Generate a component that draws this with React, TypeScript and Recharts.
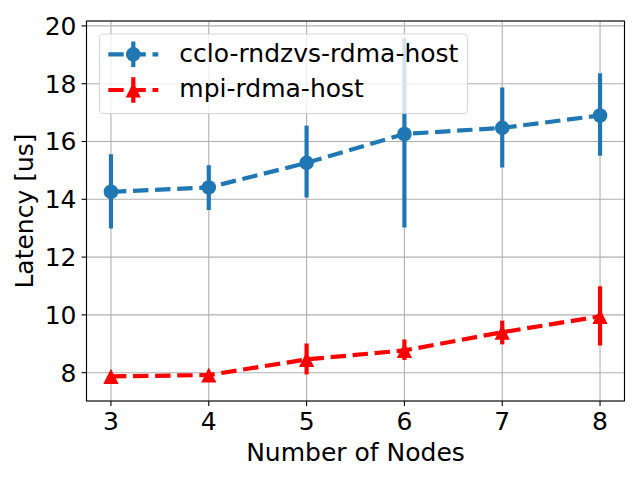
import React from 'react';
import { LineChart, Line, XAxis, YAxis, CartesianGrid, ErrorBar, Legend, ReferenceArea } from 'recharts';

const nodes = [3, 4, 5, 6, 7, 8];
const yTicks = [8, 10, 12, 14, 16, 18, 20];
const ccloMean = [14.26, 14.41, 15.26, 16.26, 16.47, 16.9];
const ccloLow = [12.99, 13.63, 14.06, 13.02, 15.1, 15.51];
const ccloHigh = [15.56, 15.18, 16.55, 19.57, 17.87, 18.36];
const mpiMean = [7.87, 7.92, 8.46, 8.77, 9.4, 9.95];
const mpiLow = [7.62, 7.82, 7.94, 8.44, 8.98, 8.94];
const mpiHigh = [8.0, 8.02, 9.01, 9.15, 9.8, 10.99];

const X_DOMAIN: [number, number] = [2.75, 8.25];
const Y_DOMAIN: [number, number] = [7.02, 20.17];

const BLUE = '#1f77b4';
const RED = '#ff0000';
const FONT = "'DejaVu Sans', sans-serif";
const LW = 4.2;
const DASH = '15.4 6.7';

const data = nodes.map((n, i) => ({
  n,
  cclo: ccloMean[i],
  ccloErr: [ccloMean[i] - ccloLow[i], ccloHigh[i] - ccloMean[i]],
  mpi: mpiMean[i],
  mpiErr: [mpiMean[i] - mpiLow[i], mpiHigh[i] - mpiMean[i]],
}));

const CircleDot = (props: any) => {
  const { cx, cy, index } = props;
  if (cx == null || cy == null) return <g key={`c${index}`} />;
  return <circle key={`c${index}`} cx={cx} cy={cy} r={7.3} fill={BLUE} />;
};

const TriDot = (props: any) => {
  const { cx, cy, index } = props;
  if (cx == null || cy == null) return <g key={`t${index}`} />;
  const s = 7.6;
  return (
    <polygon
      key={`t${index}`}
      points={`${cx},${cy - s} ${cx - s},${cy + s} ${cx + s},${cy + s}`}
      fill={RED}
    />
  );
};

const YLabel = (props: any) => {
  const vb = props.viewBox || { x: 0, y: 21, width: 86.5, height: 380 };
  const x = vb.x + 33;
  const y = vb.y + vb.height / 2;
  return (
    <text
      x={x}
      y={y}
      transform={`rotate(-90, ${x}, ${y})`}
      textAnchor="middle"
      fontSize={25}
      fontFamily={FONT}
      fill="#000"
    >
      Latency [us]
    </text>
  );
};

const XLabel = (props: any) => {
  const vb = props.viewBox || { x: 86.5, y: 401, width: 538, height: 79 };
  return (
    <text
      x={vb.x + vb.width / 2}
      y={vb.y + 60}
      textAnchor="middle"
      fontSize={25}
      fontFamily={FONT}
      fill="#000"
    >
      Number of Nodes
    </text>
  );
};

const LegendContent = () => (
  <svg
    width={640}
    height={480}
    style={{ position: 'absolute', left: 0, top: 0, overflow: 'visible', pointerEvents: 'none' }}
  >
    <rect
      x={99.5}
      y={34}
      width={368}
      height={79.5}
      rx={4}
      ry={4}
      fill="rgba(255,255,255,0.8)"
      stroke="rgba(204,204,204,0.8)"
      strokeWidth={1.1}
    />
    <line x1={108.3} y1={54.3} x2={158.3} y2={54.3} stroke={BLUE} strokeWidth={LW} strokeDasharray={DASH} />
    <line x1={133.3} y1={41.5} x2={133.3} y2={67.1} stroke={BLUE} strokeWidth={LW} />
    <circle cx={133.3} cy={54.3} r={7.3} fill={BLUE} />
    <text x={179.3} y={62.3} fontSize={25} fontFamily={FONT} fill="#000">cclo-rndzvs-rdma-host</text>

    <line x1={108.3} y1={90} x2={158.3} y2={90} stroke={RED} strokeWidth={LW} strokeDasharray={DASH} />
    <line x1={133.3} y1={77.2} x2={133.3} y2={102.8} stroke={RED} strokeWidth={LW} />
    <polygon points={`133.3,${90 - 7.6} ${133.3 - 7.6},${90 + 7.6} ${133.3 + 7.6},${90 + 7.6}`} fill={RED} />
    <text x={179.3} y={96.7} fontSize={25} fontFamily={FONT} fill="#000">mpi-rdma-host</text>
  </svg>
);

const tickStyle = { fill: '#000', fontSize: 25, fontFamily: FONT };

export default function App() {
  return (
    <div style={{ position: 'absolute', left: 0, top: 0, width: 640, height: 480, background: '#fff' }}>
      <LineChart
        width={640}
        height={480}
        data={data}
        margin={{ top: 21, right: 15.5, bottom: 0, left: 0 }}
      >
        <CartesianGrid stroke="#b0b0b0" strokeWidth={1.1} />
        <XAxis
          dataKey="n"
          type="number"
          domain={X_DOMAIN}
          ticks={nodes}
          allowDataOverflow
          height={79}
          axisLine={false}
          tickLine={{ stroke: '#000', strokeWidth: 1.1 }}
          tickSize={5}
          tickMargin={6}
          tick={tickStyle}
          label={XLabel}
        />
        <YAxis
          type="number"
          domain={Y_DOMAIN}
          ticks={yTicks}
          allowDataOverflow
          width={86.5}
          axisLine={false}
          tickLine={{ stroke: '#000', strokeWidth: 1.1 }}
          tickSize={5}
          tickMargin={5}
          tick={tickStyle}
          label={YLabel}
        />
        <ReferenceArea
          x1={X_DOMAIN[0]}
          x2={X_DOMAIN[1]}
          y1={Y_DOMAIN[0]}
          y2={Y_DOMAIN[1]}
          fill="none"
          stroke="#000"
          strokeWidth={1.1}
          ifOverflow="visible"
        />
        <Line
          dataKey="cclo"
          type="linear"
          stroke={BLUE}
          strokeWidth={LW}
          strokeDasharray={DASH}
          dot={CircleDot}
          activeDot={false}
          isAnimationActive={false}
        >
          <ErrorBar dataKey="ccloErr" width={0} stroke={BLUE} strokeWidth={LW} direction="y" isAnimationActive={false} />
        </Line>
        <Line
          dataKey="mpi"
          type="linear"
          stroke={RED}
          strokeWidth={LW}
          strokeDasharray={DASH}
          dot={TriDot}
          activeDot={false}
          isAnimationActive={false}
        >
          <ErrorBar dataKey="mpiErr" width={0} stroke={RED} strokeWidth={LW} direction="y" isAnimationActive={false} />
        </Line>
        <Legend
          content={LegendContent}
          wrapperStyle={{ position: 'absolute', left: 0, top: 0, bottom: 'auto', width: 0, height: 0 }}
        />
      </LineChart>
    </div>
  );
}
